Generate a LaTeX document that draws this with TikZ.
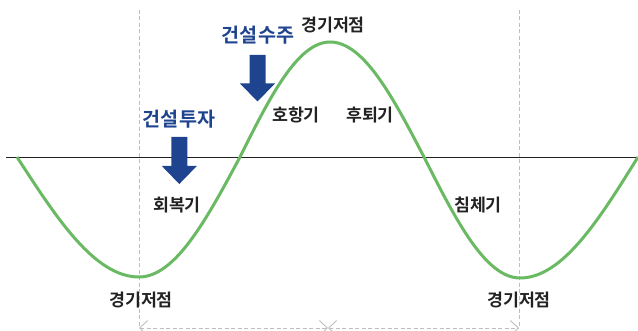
\documentclass[tikz,border=0pt]{standalone}
\usepackage{fontspec}
\setmainfont{Noto Sans CJK KR}[BoldFont={Noto Sans CJK KR Bold}]
\usetikzlibrary{arrows.meta}
\definecolor{cyclegreen}{RGB}{106,185,99}
\definecolor{buildblue}{RGB}{31,68,143}
\definecolor{labelgray}{RGB}{34,34,34}
\definecolor{guidegray}{RGB}{190,190,190}

\begin{document}
\begin{tikzpicture}[x=1pt,y=-1pt,
  phase/.style={font=\bfseries\fontsize{17.3}{19}\selectfont,text=labelgray,inner sep=0pt},
  build/.style={font=\bfseries\fontsize{19.6}{21}\selectfont,text=buildblue,inner sep=0pt},
  buildarrow/.style={fill=buildblue,draw=none},
  guide/.style={guidegray,line width=0.9pt,dash pattern=on 4pt off 2.5pt},
  span/.style={guide,{Straight Barb[length=8pt,width=15pt]}-{Straight Barb[length=8pt,width=15pt]}}]
  \useasboundingbox (0,0) rectangle (638,331);
  \coordinate (axisL) at (6,157);
  \coordinate (axisR) at (638,157);
  \coordinate (troughLtop) at (139,10);
  \coordinate (troughLbot) at (139,328);
  \coordinate (troughRtop) at (519,10);
  \coordinate (troughRbot) at (519,328);
  \coordinate (spanMid) at (328,328);
  \draw[guide] (troughLtop) -- (troughLbot);
  \draw[guide] (troughRtop) -- (troughRbot);
  \draw[span] (troughLbot) -- (spanMid);
  \draw[span] (spanMid) -- (troughRbot);
  \draw[labelgray,line width=0.9pt] (axisL) -- (axisR);
  \draw[cyclegreen,line width=3pt] (17,157) sin (139,277) cos (240,157) sin (330,42)
    cos (424,157) sin (520,278) cos (638,157);
  \node[phase] (peak) at (333,25) {경기저점};
  \node[phase] (lowL) at (141,300) {경기저점};
  \node[phase] (lowR) at (519,300) {경기저점};
  \node[phase] (boom) at (296,115) {호항기};
  \node[phase] (slow) at (370,115) {후퇴기};
  \node[phase] (slump) at (478,205) {침체기};
  \node[phase] (recover) at (177,205) {회복기};
  \node[build] (orders) at (258,35) {건설수주};
  \node[build] (invest) at (179,119) {건설투자};
  \coordinate (ordersTip) at (257.5,101.5);
  \coordinate (investTip) at (179.3,184);
  \fill[buildarrow] (ordersTip) -- ++(-17.5,-18) -- ++(9.5,0) -- ++(0,-28.5)
    -- ++(16,0) -- ++(0,28.5) -- ++(9.5,0) -- cycle;
  \fill[buildarrow] (investTip) -- ++(-17.5,-18) -- ++(9.5,0) -- ++(0,-29)
    -- ++(16,0) -- ++(0,29) -- ++(9.5,0) -- cycle;
\end{tikzpicture}
\end{document}
